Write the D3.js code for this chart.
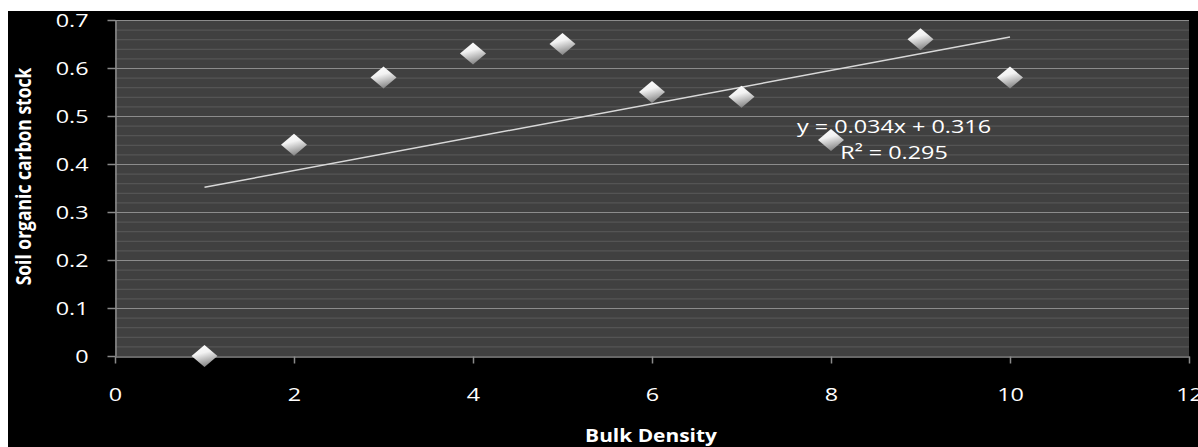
<!DOCTYPE html>
<html>
<head>
<meta charset="utf-8">
<script src="https://cdn.jsdelivr.net/npm/d3@7"></script>
<style>
  html, body { margin: 0; padding: 0; background: #fff; }
  svg { display: block; }
</style>
</head>
<body>
<svg id="chart" width="1198" height="447"></svg>
<script>
// Data
var bulkDensity = [1, 2, 3, 4, 5, 6, 7, 8, 9, 10];
var carbonStock = [0.0, 0.44, 0.58, 0.63, 0.65, 0.55, 0.54, 0.45, 0.66, 0.58];
var xTicks = [0, 2, 4, 6, 8, 10, 12];
var yTicks = [0, 0.1, 0.2, 0.3, 0.4, 0.5, 0.6, 0.7];
var equationLines = ["y = 0.034x + 0.316", "R\u00b2 = 0.295"];

var svg = d3.select("#chart");
var font = "'Open Sans', sans-serif";
var stretch = 1.23; // the original picture is drawn wider than tall

// black panel
svg.append("rect").attr("x", 8).attr("y", 11).attr("width", 1190).attr("height", 436).attr("fill", "#000");

var plot = { left: 115, right: 1189, top: 20, bottom: 356 };
var x = d3.scaleLinear().domain([0, 12]).range([plot.left, plot.right]);
var y = d3.scaleLinear().domain([0, 0.7]).range([plot.bottom, plot.top]);

// plot area
svg.append("rect")
  .attr("x", plot.left).attr("y", plot.top)
  .attr("width", plot.right - plot.left).attr("height", plot.bottom - plot.top)
  .attr("fill", "#404040");

// minor gridlines
var minor = d3.range(0, 71, 2).map(function(d) { return d / 100; }).filter(function(d) { return Math.round(d * 100) % 10 !== 0; });
svg.append("g").selectAll("line").data(minor).enter().append("line")
  .attr("x1", plot.left).attr("x2", plot.right)
  .attr("y1", function(d) { return y(d) + 0.5; }).attr("y2", function(d) { return y(d) + 0.5; })
  .attr("stroke", "#595959").attr("stroke-width", 1);

// major gridlines
svg.append("g").selectAll("line").data(yTicks.slice(1)).enter().append("line")
  .attr("x1", plot.left).attr("x2", plot.right)
  .attr("y1", function(d) { return y(d) + 0.5; }).attr("y2", function(d) { return y(d) + 0.5; })
  .attr("stroke", "#8c8c8c").attr("stroke-width", 1);

// axes
var yAxis = svg.append("g").attr("transform", "translate(" + (plot.left + 0.5) + ",0)")
  .call(d3.axisLeft(y).tickValues(yTicks).tickSize(8).tickSizeOuter(0).tickFormat(d3.format("")));
var xAxis = svg.append("g").attr("transform", "translate(0," + (plot.bottom + 0.5) + ")")
  .call(d3.axisBottom(x).tickValues(xTicks).tickSize(7).tickSizeOuter(0));

[yAxis, xAxis].forEach(function(ax) {
  ax.select(".domain").attr("stroke", "#8a8a8a").attr("stroke-width", 1.5);
  ax.selectAll(".tick line").attr("stroke", "#8a8a8a").attr("stroke-width", 1.5);
  ax.selectAll(".tick text")
    .attr("fill", "#fff").style("font-family", font).style("font-size", "19px");
});
yAxis.selectAll(".tick text").attr("x", 0).attr("dy", "0.35em")
  .attr("transform", "translate(-27,0) scale(" + stretch + ",1)");
xAxis.selectAll(".tick text").attr("y", 0).attr("dy", 0)
  .attr("transform", "translate(0,44) scale(" + stretch + ",1)");

// trend line (least squares)
var n = bulkDensity.length;
var mx = d3.mean(bulkDensity), my = d3.mean(carbonStock);
var sxy = d3.sum(bulkDensity, function(d, i) { return (d - mx) * (carbonStock[i] - my); });
var sxx = d3.sum(bulkDensity, function(d) { return (d - mx) * (d - mx); });
var slope = sxy / sxx, intercept = my - slope * mx;
var xMin = d3.min(bulkDensity), xMax = d3.max(bulkDensity);
svg.append("line")
  .attr("x1", x(xMin)).attr("y1", y(slope * xMin + intercept))
  .attr("x2", x(xMax)).attr("y2", y(slope * xMax + intercept))
  .attr("stroke", "#d8d8d8").attr("stroke-width", 1.5);

// markers
var defs = svg.append("defs");
var grad = defs.append("linearGradient").attr("id", "dia").attr("x1", 0).attr("y1", 0).attr("x2", 0.3).attr("y2", 1);
grad.append("stop").attr("offset", "0%").attr("stop-color", "#ffffff");
grad.append("stop").attr("offset", "45%").attr("stop-color", "#f2f2f2");
grad.append("stop").attr("offset", "100%").attr("stop-color", "#8c8c8c");

svg.append("g").selectAll("path").data(bulkDensity).enter().append("path")
  .attr("d", "M0,-11L13,0L0,11L-13,0Z")
  .attr("transform", function(d, i) { return "translate(" + x(d) + "," + y(carbonStock[i]) + ")"; })
  .attr("fill", "url(#dia)");

// equation label
var eq = svg.append("g").attr("transform", "translate(894,133) scale(" + stretch + ",1)");
eq.selectAll("text").data(equationLines).enter().append("text")
  .attr("x", 0).attr("y", function(d, i) { return i * 26; })
  .attr("text-anchor", "middle")
  .attr("fill", "#fff").style("font-family", font).style("font-size", "19px")
  .text(function(d) { return d; });

// axis titles
svg.append("text")
  .attr("transform", "translate(651,442) scale(" + stretch + ",1)")
  .attr("text-anchor", "middle").attr("fill", "#fff")
  .style("font-family", font).style("font-size", "17px").style("font-weight", "bold")
  .text("Bulk Density");
svg.append("text")
  .attr("transform", "translate(31,176.5) scale(" + stretch + ",1) rotate(-90)")
  .attr("text-anchor", "middle").attr("fill", "#fff")
  .style("font-family", font).style("font-size", "17.5px").style("font-weight", "bold")
  .text("Soil organic carbon stock");
</script>
</body>
</html>
